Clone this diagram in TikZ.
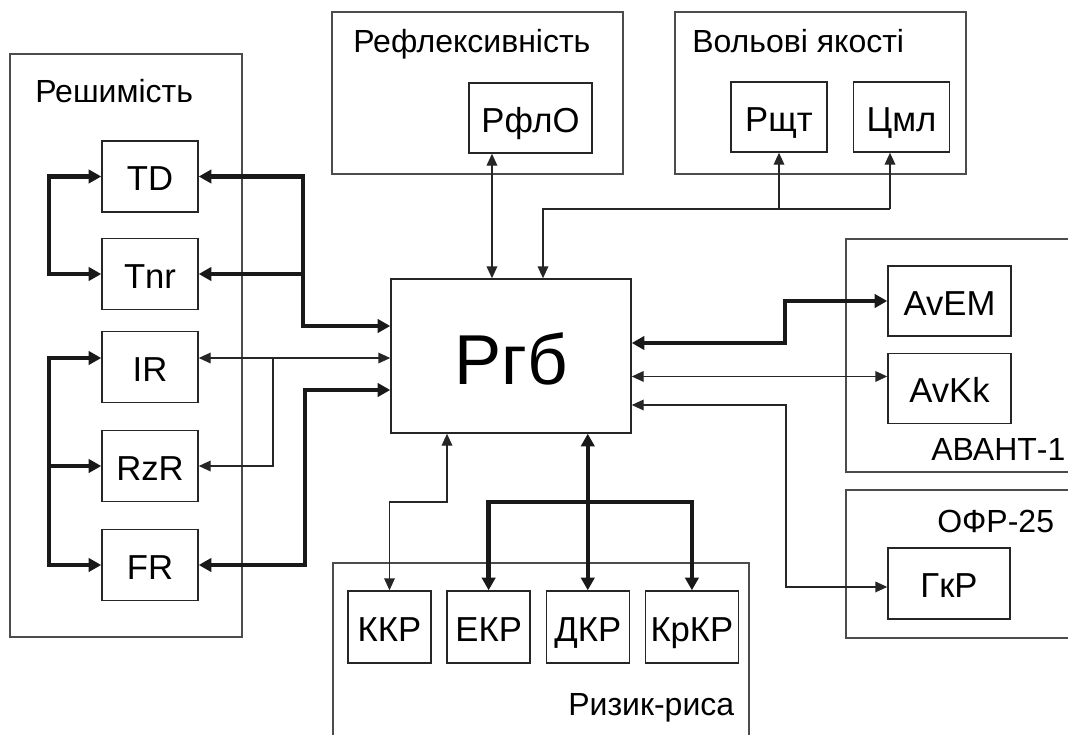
\documentclass[tikz,border=0pt]{standalone}
\usepackage{fontspec}
\setmainfont{Liberation Sans}
\usetikzlibrary{positioning, arrows.meta}

\begin{document}
\begin{tikzpicture}[
                  x=0.75pt, y=-0.75pt,
                  blk/.style={draw=black!85, line width=1.1pt, inner sep=0pt,
                              minimum width=72pt, minimum height=53pt,
                              text height=21.5pt, text depth=0pt,
                              font=\fontsize{26}{30}\selectfont},
                  grp/.style={draw=black!70, line width=0.9pt, inner sep=0pt},
                  lbl/.style={anchor=base west, inner sep=0pt,
                              font=\fontsize{24}{28}\selectfont},
                  thn/.style={<->, >={Triangle[length=9pt, width=8pt]},
                              line width=1.1pt, black!85},
                  thk/.style={<->, >={Triangle[length=9.5pt, width=10pt]},
                              line width=3.3pt, black!90},
                  node distance=11pt,
            ]
            \path[use as bounding box, fill=white] (0,0) rectangle (1068,735);
            \clip (0,0) rectangle (1068,735);

            % groups
            \node[grp, minimum width=174pt, minimum height=437.25pt] (gres) at (126,345.5) {};
            \node[grp, minimum width=218.25pt, minimum height=121.5pt] (grfl) at (477.5,93) {};
            \node[grp, minimum width=218.25pt, minimum height=121.5pt] (gvol) at (820.5,93) {};
            \node[grp, minimum width=183pt, minimum height=174.75pt] (gav) at (968,355.5) {};
            \node[grp, minimum width=183pt, minimum height=111pt] (gofr) at (968,564) {};
            \node[grp, minimum width=312pt, minimum height=147.75pt] (gryz) at (541,661.5) {};

            \node[lbl] (lres) at (35,103) {Решимість};
            \node[lbl] (lrfl) at (353,53) {Рефлексивність};
            \node[lbl] (lvol) at (692,53) {Вольові якості};
            \node[lbl] (lav) at (931,460) {АВАНТ-1};
            \node[lbl] (lofr) at (937,532) {ОФР-25};
            \node[lbl] (lryz) at (568,715) {Ризик-риса};

            % blocks
            \node[blk] (td) at (150,176.5) {TD};
            \node[blk] (tnr) at (150,274) {Tnr};
            \node[blk] (ir) at (150,367) {IR};
            \node[blk] (rzr) at (150,466) {RzR};
            \node[blk] (fr) at (150,565) {FR};

            \node[blk, minimum width=180pt, minimum height=115.5pt, text height=43pt,
                  font=\fontsize{53}{60}\selectfont] (rgb) at (511,356) {Ргб};

            \node[blk, minimum width=92.25pt, minimum height=52.5pt] (rflo) at (530.5,118) {РфлО};
            \node[blk, minimum height=52.5pt] (rsht) at (779,117) {Рщт};
            \node[blk, minimum height=52.5pt, right=18.75pt of rsht] (cml) {Цмл};

            \node[blk, minimum width=92.25pt, minimum height=52.5pt] (avem) at (949.5,301) {AvEM};
            \node[blk, minimum width=92.25pt, minimum height=52.5pt, below=12pt of avem] (avkk) {AvKk};
            \node[blk, minimum width=91.5pt] (gkr) at (949,583.5) {ГкР};

            \node[blk, minimum width=62.25pt, minimum height=54pt] (kkr) at (389.5,627) {ККР};
            \node[blk, minimum width=62.25pt, minimum height=54pt, right=of kkr] (ekr) {ЕКР};
            \node[blk, minimum width=62.25pt, minimum height=54pt, right=of ekr] (dkr) {ДКР};
            \node[blk, minimum width=69.75pt, minimum height=54pt, right=of dkr] (krkr) {КрКР};

            % bus points
            \coordinate (jl1) at (303,326);
            \coordinate (jl2) at (305,390);
            \coordinate (jl3) at (273,358);
            \coordinate (jt1) at (890,209);
            \coordinate (jt2) at (543,209);
            \coordinate (jr1) at (785,343);
            \coordinate (jr2) at (786,405);
            \coordinate (jb1) at (447,502);
            \path (dkr.north) ++(0,-88) coordinate (jb2);

            % left side
            \draw[thk] (td.west) -- ++(-52,0) |- (tnr.west);
            \draw[thk] ([yshift=6.75pt]ir.west) -- ++(-52,0) |- (fr.west);
            \draw[thk, ->] (50,466) -- (rzr.west);
            \draw[thk] (td.east) -| (jl1) -- (jl1 -| rgb.west);
            \draw[thk, ->] (jl1 |- tnr.east) -- (tnr.east);
            \draw[thk] (fr.east) -| (jl2) -- (jl2 -| rgb.west);
            \draw[thn] ([yshift=6.75pt]ir.east) -- (jl3 -| rgb.west);
            \draw[thn, ->] (jl3) |- (rzr.east);

            % top
            \draw[thn] ([xshift=-28.9pt]rflo.south) -- ([xshift=-28.9pt]rflo.south |- rgb.north);
            \draw[thn, ->] (jt1) -| (jt2 |- rgb.north);
            \draw[thn, ->] (jt1) -- (jt1 |- cml.south);
            \draw[thn, ->] (rsht.south |- jt1) -- (rsht.south);

            % right
            \draw[thk] (jr1 -| rgb.east) -- (jr1) |- (avem.west);
            \draw[thn] ([yshift=9pt]avkk.west -| rgb.east) -- ([yshift=9pt]avkk.west);
            \draw[thn] (jr2 -| rgb.east) -- (jr2) |- ([yshift=-2.6pt]gkr.west);

            % bottom
            \draw[thn] (jb1 |- rgb.south) -- (jb1) -| (kkr.north);
            \draw[thk] (dkr.north |- rgb.south) -- (dkr.north);
            \draw[thk, ->] (jb2) -| (ekr.north);
            \draw[thk, ->] (jb2) -| (krkr.north);
      \end{tikzpicture}
\end{document}
